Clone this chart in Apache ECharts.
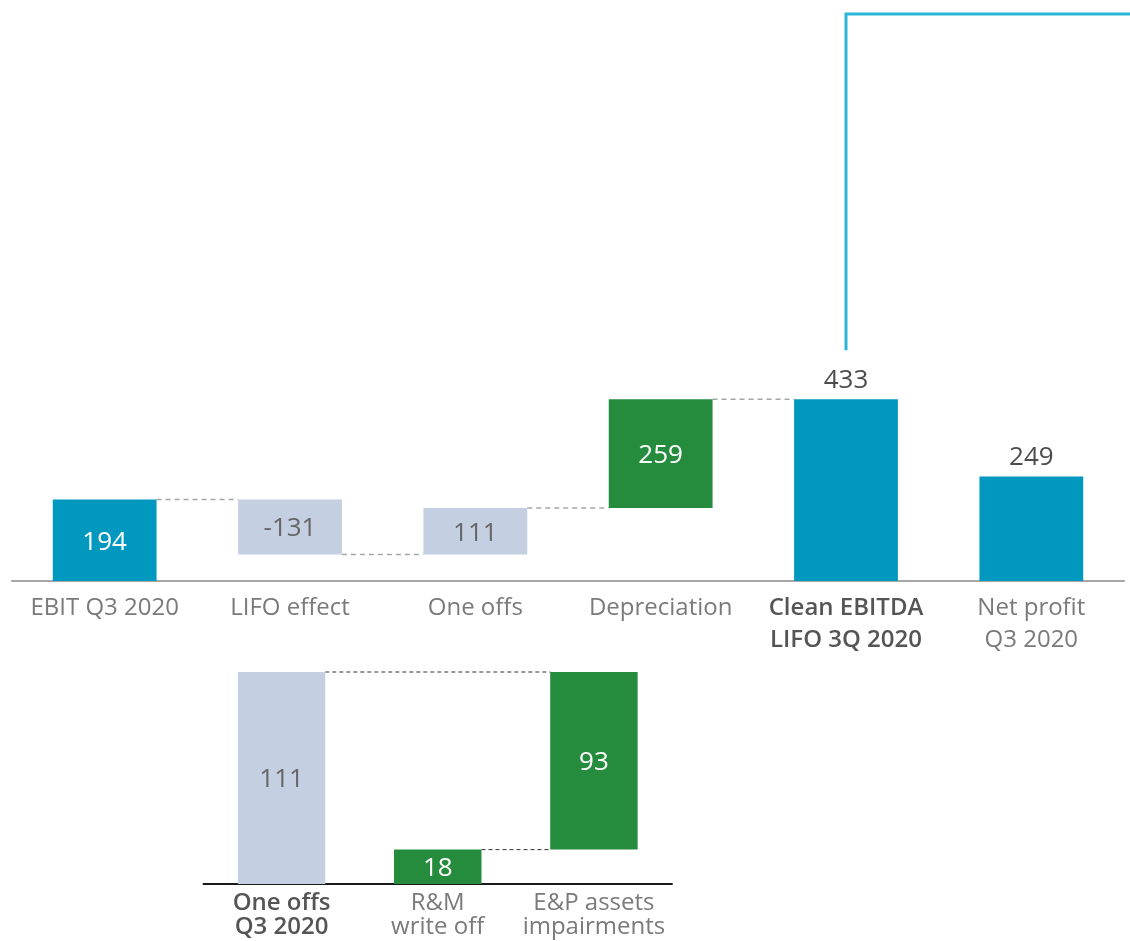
<!DOCTYPE html>
<html>
<head>
<meta charset="utf-8">
<script src="https://cdn.jsdelivr.net/npm/echarts@6/dist/echarts.min.js"></script>
<style>
html,body{margin:0;padding:0;background:#fff;}
#chart{width:1130px;height:941px;}
</style>
</head>
<body>
<div id="chart"></div>
<script>
// ---- Data ----
const topCategories = ['EBIT Q3 2020', 'LIFO effect', 'One offs', 'Depreciation', 'Clean EBITDA\nLIFO 3Q 2020', 'Net profit\nQ3 2020'];
const topValues = [194, -131, 111, 259, 433, 249];
const topKinds = ['total', 'delta', 'delta', 'delta', 'total', 'total'];
const topColorKeys = ['teal', 'grey', 'grey', 'green', 'teal', 'teal'];

const bottomCategories = ['One offs\nQ3 2020', 'R&M\nwrite off', 'E&P assets\nimpairments'];
const bottomValues = [111, 18, 93];
const bottomKinds = ['total', 'delta', 'delta'];
const bottomColorKeys = ['grey', 'green', 'green'];

// ---- Styles ----
const COLORS = { teal: '#0098bf', grey: '#c4cfe1', green: '#268c3d' };
const LABEL_COLORS = { teal: '#ffffff', grey: '#666666', green: '#ffffff' };
const FONT = 'Open Sans';

function buildTop(values, kinds) {
  const base = [], height = [], links = [];
  let run = 0;
  values.forEach((v, i) => {
    if (kinds[i] === 'total') {
      base.push(0); height.push(v);
      if (i > 0 && kinds[i - 1] === 'delta') links.push([i - 1, i, run]);
      run = v;
    } else {
      const prev = run;
      run = prev + v;
      base.push(Math.min(prev, run)); height.push(Math.abs(v));
      links.push([i - 1, i, prev]);
    }
  });
  return { base, height, links };
}
const topW = buildTop(topValues, topKinds);

const botBase = [], botHeight = [], botLinks = [];
(function () {
  let run = 0;
  bottomValues.forEach((v, i) => {
    if (bottomKinds[i] === 'total') { botBase.push(0); botHeight.push(v); }
    else { botBase.push(run); botHeight.push(v); run += v; }
  });
  const last = bottomValues.length - 1;
  botLinks.push([0, last, bottomValues[0]]);
  for (let i = 1; i < last; i++) {
    let lvl = 0; for (let k = 1; k <= i; k++) lvl += bottomValues[k];
    botLinks.push([i, i + 1, lvl]);
  }
})();

function barData(heights, colorKeys, values, outsideIdx) {
  return heights.map((h, i) => {
    const ck = colorKeys[i];
    const outside = outsideIdx.indexOf(i) >= 0;
    return {
      value: h,
      itemStyle: { color: COLORS[ck] },
      label: {
        show: true,
        position: outside ? 'top' : 'inside',
        distance: 6,
        offset: outside ? [0, 0] : [0, 2],
        formatter: String(values[i]),
        color: outside ? '#4d4d4d' : LABEL_COLORS[ck],
        fontFamily: FONT,
        fontSize: 26
      }
    };
  });
}

function connector(color, width, dash, xAxisIndex, yAxisIndex, data) {
  return {
    type: 'custom', xAxisIndex, yAxisIndex, clip: false, silent: true,
    data: data,
    encode: { x: 0, y: 2 },
    renderItem: function (params, api) {
      const a = api.value(0), b = api.value(1), lvl = api.value(2);
      const p1 = api.coord([a, lvl]);
      const p2 = api.coord([b, lvl]);
      const bw = api.size([1, 0])[0] * 0.56;
      return {
        type: 'line',
        shape: { x1: p1[0] + bw / 2, y1: p1[1], x2: p2[0] - bw / 2, y2: p2[1] },
        style: { stroke: color, lineWidth: width, lineDash: dash }
      };
    }
  };
}

const chart = echarts.init(document.getElementById('chart'));
function rich(lh) {
  return {
    n: { color: '#7a7a7a', fontFamily: FONT, fontSize: 24, lineHeight: lh },
    b: { color: '#555555', fontFamily: FONT, fontSize: 24, fontWeight: 600, lineHeight: lh }
  };
}
function fmt(prefix) {
  return function (val) {
    const bold = val.indexOf(prefix) === 0;
    return val.split('\n').map(s => (bold ? '{b|' : '{n|') + s + '}').join('\n');
  };
}

chart.setOption({
  animation: false,
  backgroundColor: '#ffffff',
  grid: [
    { left: 12, width: 1112, top: 14, height: 567 },
    { left: 203.5, width: 468.5, top: 672, height: 212 }
  ],
  xAxis: [
    {
      type: 'category', gridIndex: 0, data: topCategories,
      axisLine: { show: true, lineStyle: { color: '#a6a6a6', width: 2 } },
      axisTick: { show: false },
      axisLabel: { margin: 11, lineHeight: 32, formatter: fmt('Clean EBITDA'), rich: rich(32) }
    },
    {
      type: 'category', gridIndex: 1, data: bottomCategories,
      axisLine: { show: true, lineStyle: { color: '#1a1a1a', width: 2 } },
      axisTick: { show: false },
      axisLabel: { margin: 7, lineHeight: 24, formatter: fmt('One offs'), rich: rich(24) }
    }
  ],
  yAxis: [
    { type: 'value', gridIndex: 0, min: 0, max: 1350, show: false, splitLine: { show: false } },
    { type: 'value', gridIndex: 1, min: 0, max: 111, show: false, splitLine: { show: false } }
  ],
  series: [
    { type: 'bar', xAxisIndex: 0, yAxisIndex: 0, stack: 't', barWidth: '56%', silent: true,
      itemStyle: { color: 'transparent' }, data: topW.base },
    { type: 'bar', xAxisIndex: 0, yAxisIndex: 0, stack: 't', barWidth: '56%', silent: true,
      data: barData(topW.height, topColorKeys, topValues, [4, 5]) },
    connector('#a6a6a6', 1.5, [5, 4], 0, 0, topW.links),
    { type: 'bar', xAxisIndex: 1, yAxisIndex: 1, stack: 'b', barWidth: '56%', silent: true,
      itemStyle: { color: 'transparent' }, data: botBase },
    { type: 'bar', xAxisIndex: 1, yAxisIndex: 1, stack: 'b', barWidth: '56%', silent: true,
      data: barData(botHeight, bottomColorKeys, bottomValues, []) },
    connector('#333333', 1, [4, 3], 1, 1, botLinks),
    {
      type: 'custom', xAxisIndex: 0, yAxisIndex: 0, clip: false, silent: true,
      data: [[4, topValues[4]]],
      encode: { x: 0, y: 1 },
      renderItem: function (params, api) {
        const p = api.coord([api.value(0), api.value(1)]);
        const topY = params.coordSys.y;
        return {
          type: 'polyline',
          shape: { points: [[p[0], p[1] - 49], [p[0], topY], [api.getWidth(), topY]] },
          style: { stroke: '#2bb5d6', lineWidth: 3, fill: null }
        };
      }
    }
  ]
});
</script>
</body>
</html>
